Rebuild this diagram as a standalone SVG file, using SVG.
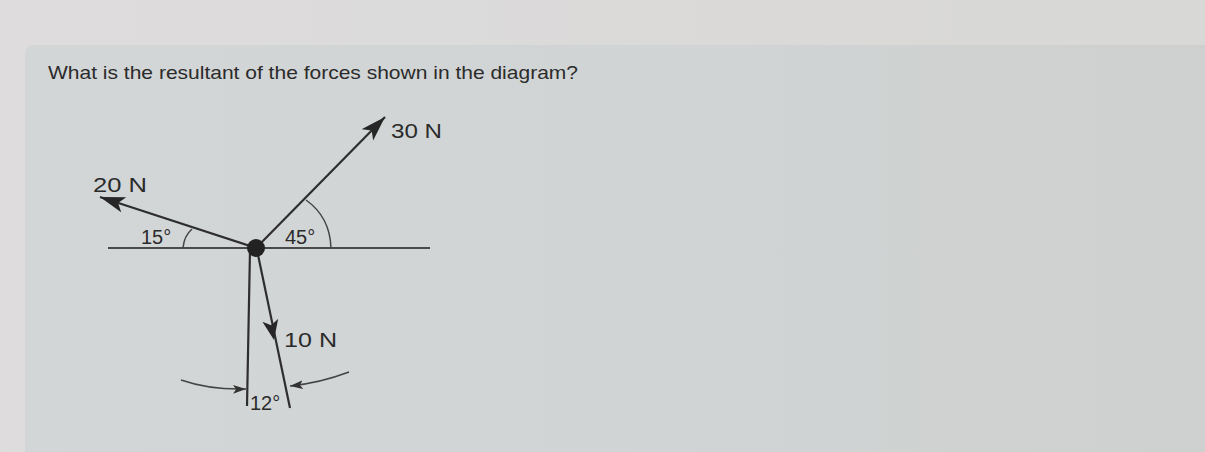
<svg xmlns="http://www.w3.org/2000/svg" width="1205" height="452" viewBox="0 0 1205 452">
<style>
.t{font-family:"Liberation Sans",Arial,sans-serif;fill:#2b2b2b}
.ln{stroke:#2e2e2e;stroke-width:2.2;fill:none}
.thin{stroke:#444;stroke-width:1.5;fill:none}
.ah{fill:#262626}
</style>
<defs>
<linearGradient id="bg" x1="0" y1="0" x2="1" y2="0">
<stop offset="0" stop-color="#dedcdd"/>
<stop offset="1" stop-color="#d8d8d6"/>
</linearGradient>
<linearGradient id="pn" x1="0" y1="0" x2="1" y2="0">
<stop offset="0" stop-color="#d3d6d7"/>
<stop offset="0.6" stop-color="#d1d4d4"/>
<stop offset="1" stop-color="#cdd0ce"/>
</linearGradient>
<marker id="big" markerWidth="26" markerHeight="18" refX="25" refY="8" orient="auto" markerUnits="userSpaceOnUse">
<path d="M0,0 L25,8 L0,16 L6,8 Z" class="ah"/>
</marker>
<marker id="mid" markerWidth="22" markerHeight="18" refX="20" refY="8" orient="auto" markerUnits="userSpaceOnUse">
<path d="M0,0 L20,8 L0,16 L5,8 Z" class="ah"/>
</marker>
<marker id="sm" markerWidth="14" markerHeight="10" refX="13" refY="4.5" orient="auto" markerUnits="userSpaceOnUse">
<path d="M0,0 L13,4.5 L0,9 L3,4.5 Z" fill="#333"/>
</marker>
</defs>
<rect width="1205" height="452" fill="url(#bg)"/>
<rect x="25" y="45" width="1200" height="420" rx="8" fill="url(#pn)"/>
<text class="t" x="48" y="79" font-size="18.5" textLength="530" lengthAdjust="spacingAndGlyphs">What is the resultant of the forces shown in the diagram?</text>

<g id="baseline">
<line x1="108" y1="248" x2="430" y2="248" stroke="#4a4a4a" stroke-width="1.8"/>
</g>

<g id="connectors">
<line id="f20" class="ln" x1="256" y1="248" x2="100" y2="197" marker-end="url(#big)"/>
<line id="f30" class="ln" x1="256" y1="248" x2="385" y2="117" marker-end="url(#big)"/>
<line class="ln" x1="250" y1="250" x2="247" y2="406"/>
<line class="ln" x1="257" y1="250" x2="290" y2="408"/>
<line class="ln" x1="257" y1="250" x2="274" y2="340" marker-end="url(#mid)" stroke-opacity="0"/>
<path class="thin" d="M183,248 Q184,236 192,229"/>
<path class="thin" d="M331,248 Q330,217 306,200"/>
<path class="thin" d="M181,380 Q210,390 246,389" marker-end="url(#sm)"/>
<path class="thin" d="M349,372 Q320,383 290,386" marker-end="url(#sm)"/>
</g>

<g id="center">
<circle cx="256" cy="248" r="9" fill="#222"/>
</g>

<g id="labels">
<text class="t" x="93" y="192" font-size="21" textLength="54" lengthAdjust="spacingAndGlyphs">20 N</text>
<text class="t" x="141" y="244" font-size="20">15°</text>
<text class="t" x="285" y="244" font-size="20">45°</text>
<text class="t" x="391" y="138" font-size="20" textLength="51" lengthAdjust="spacingAndGlyphs">30 N</text>
<text class="t" x="284" y="347" font-size="21" textLength="53" lengthAdjust="spacingAndGlyphs">10 N</text>
<text class="t" x="250" y="410" font-size="20">12°</text>
</g>
</svg>
